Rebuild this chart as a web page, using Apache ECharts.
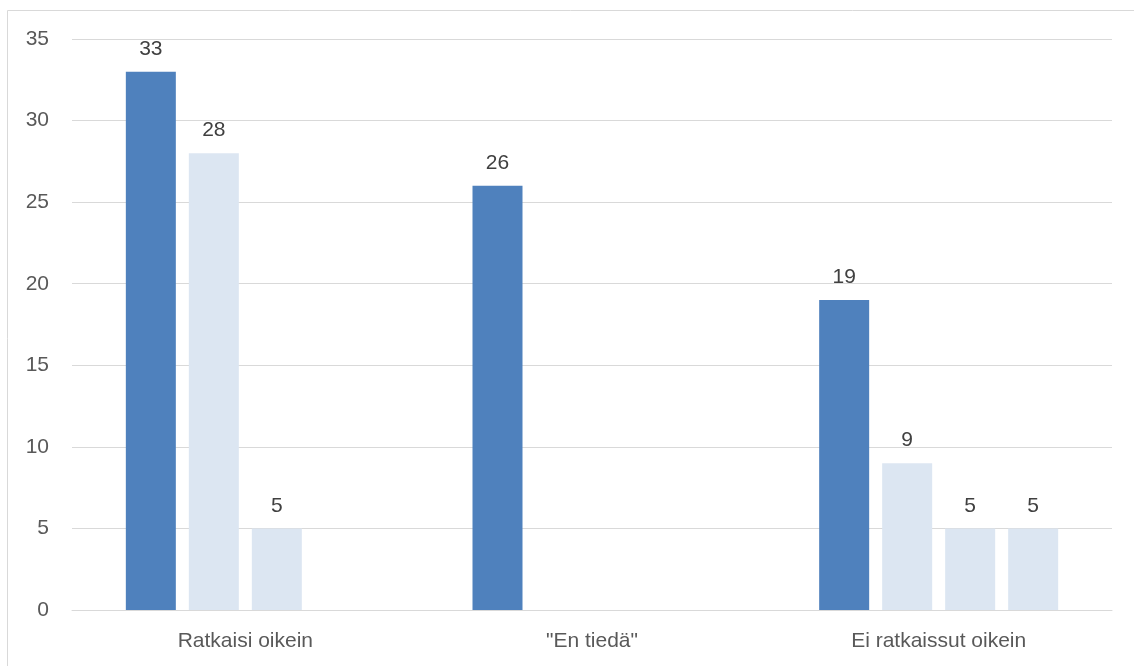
<!DOCTYPE html>
<html>
<head>
<meta charset="utf-8">
<script src="https://cdn.jsdelivr.net/npm/echarts@6/dist/echarts.min.js"></script>
<style>
  html, body { margin: 0; padding: 0; background: #fff; }
  #chart { width: 1134px; height: 666px; }
</style>
</head>
<body>
<div id="chart"></div>
<script>
const categories = ["Ratkaisi oikein", "\"En tiedä\"", "Ei ratkaissut oikein"];
// four bar slots per category; empty slots stay null
const slot1 = [33, 26, 19];
const slot2 = [28, null, 9];
const slot3 = [5, null, 5];
const slot4 = [null, null, 5];

const DARK = "#4F81BD";
const LIGHT = "#DCE6F2";
const FONT = "Liberation Sans";

const chart = echarts.init(document.getElementById("chart"));

function barSeries(data, color) {
  return {
    type: "bar",
    data: data,
    barWidth: 50,
    barGap: "26%",
    itemStyle: { color: color },
    label: {
      show: true,
      position: "top",
      distance: 12,
      color: "#404040",
      fontFamily: FONT,
      fontSize: 21,
    },
  };
}

chart.setOption({
  animation: false,
  grid: { left: 72, right: 22, top: 39, bottom: 56, containLabel: false },
  graphic: [
    {
      type: "polyline",
      shape: { points: [[7.5, 666], [7.5, 10.5], [1134, 10.5]] },
      style: { stroke: "#D9D9D9", lineWidth: 1, fill: null },
    },
  ],
  xAxis: {
    type: "category",
    data: categories,
    axisLine: { lineStyle: { color: "#D9D9D9", width: 1 } },
    axisTick: { show: false },
    axisLabel: { color: "#595959", fontFamily: FONT, fontSize: 21, margin: 21 },
  },
  yAxis: {
    type: "value",
    min: 0,
    max: 35,
    interval: 5,
    axisLine: { show: false },
    axisTick: { show: false },
    splitLine: { lineStyle: { color: "#D9D9D9", width: 1 } },
    axisLabel: { color: "#595959", fontFamily: FONT, fontSize: 21, margin: 23 },
  },
  series: [
    barSeries(slot1, DARK),
    barSeries(slot2, LIGHT),
    barSeries(slot3, LIGHT),
    barSeries(slot4, LIGHT),
  ],
});
</script>
</body>
</html>
